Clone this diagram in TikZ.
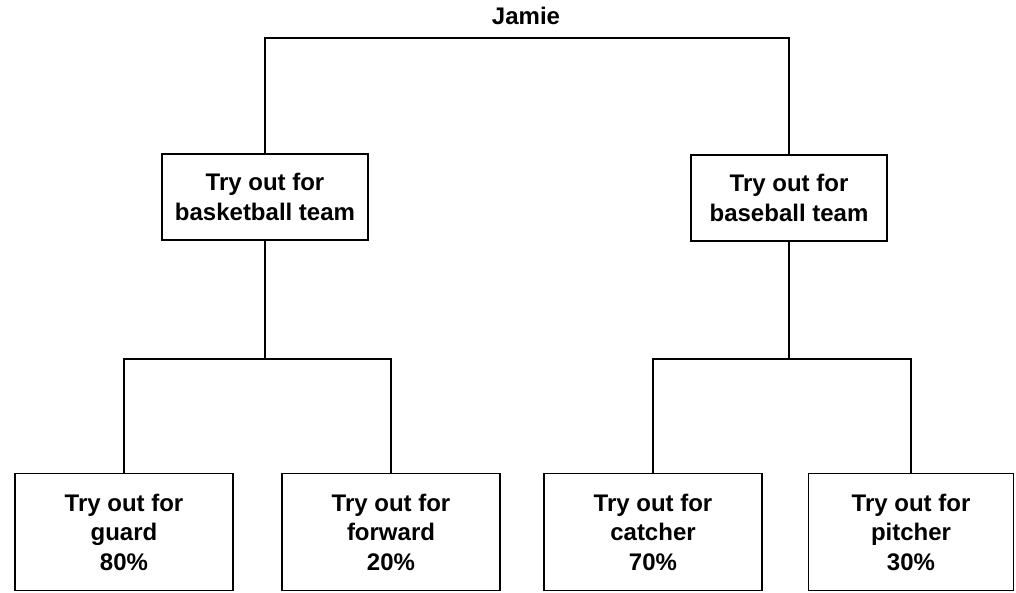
\documentclass[tikz,border=0pt]{standalone}
\usepackage{fontspec}
\setmainfont{Liberation Sans}

\begin{document}
\begin{tikzpicture}[
      x=1pt, y=-1pt,
      txt/.style={font=\bfseries\fontsize{24}{29.5}\selectfont},
      choice/.style={txt, draw, line width=1.8pt, align=center, inner sep=0pt},
      team/.style={choice, minimum width=206pt, minimum height=86pt},
      spot/.style={choice, minimum width=218pt, minimum height=117pt},
      link/.style={line width=1.8pt}
    ]
    \useasboundingbox (0,0) rectangle (1016,593);
    \node[txt, anchor=base] (jamie) at (526,25) {Jamie};
    \node[team] (bask) at (265,197) {Try out for\\basketball team};
    \node[team, minimum width=196pt] (base) at (789,198) {Try out for\\baseball team};
    \node[spot] (guard) at (124,532) {Try out for\\guard\\80\%};
    \node[spot] (fwd) at (391,532) {Try out for\\forward\\20\%};
    \node[spot] (catch) at (653,532) {Try out for\\catcher\\70\%};
    \node[spot, minimum width=205pt] (pitch) at (911,532) {Try out for\\pitcher\\30\%};
    \coordinate (jsplit) at (526,38);
    \coordinate (bsplit) at (265,359);
    \coordinate (psplit) at (789,359);
    \draw[link] (bask.north) |- (jsplit) -| (base.north);
    \draw[link] (bask.south) -- (bsplit);
    \draw[link] (guard.north) |- (bsplit) -| (fwd.north);
    \draw[link] (base.south) -- (psplit);
    \draw[link] (catch.north) |- (psplit) -| (pitch.north);
  \end{tikzpicture}
\end{document}
